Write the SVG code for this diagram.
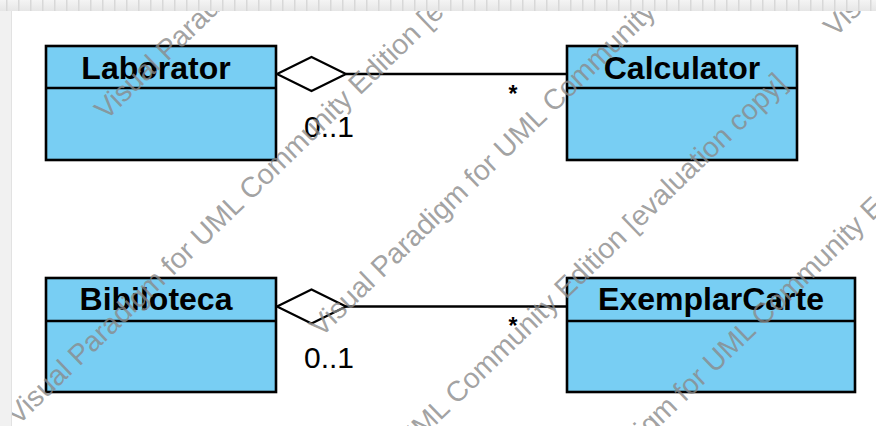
<svg xmlns="http://www.w3.org/2000/svg" width="876" height="426" viewBox="0 0 876 426">
  <defs>
    <style>
      .cls { fill: #78cef3; stroke: #000; stroke-width: 2.6; }
      .div { stroke: #000; stroke-width: 2.6; }
      .name { font-family: "Liberation Sans", Arial, sans-serif; font-size: 32px; font-weight: bold; fill: #000; text-anchor: middle; }
      .mult { font-family: "Liberation Sans", Arial, sans-serif; font-size: 30px; fill: #000; }
      .star { font-family: "Liberation Sans", Arial, sans-serif; font-size: 23px; font-weight: bold; fill: #000; text-anchor: middle; }
      .assoc { stroke: #000; stroke-width: 2.6; fill: none; }
      .agg { stroke: #000; stroke-width: 2.2; fill: #fff; stroke-linejoin: miter; }
      .wm { font-family: "Liberation Sans", Arial, sans-serif; font-size: 28.5px; fill: #8a8a8a; fill-opacity: 0.8; }
    </style>
    <linearGradient id="rulerFill" x1="0" y1="0" x2="0" y2="1">
      <stop offset="0" stop-color="#f4f4f4"/>
      <stop offset="1" stop-color="#e6e6e6"/>
    </linearGradient>
    <pattern id="ticks" x="0" y="0" width="12" height="11" patternUnits="userSpaceOnUse">
      <rect x="0" y="0" width="12" height="11" fill="url(#rulerFill)"/>
      <rect x="6" y="0" width="1.5" height="11" fill="#d8d8d8"/>
    </pattern>
  </defs>

  <!-- canvas -->
  <rect x="0" y="0" width="876" height="426" fill="#fff"/>

  <!-- associations -->
  <g id="connectors">
    <g id="assoc-laborator-calculator">
      <line class="assoc" x1="346" y1="74" x2="566" y2="74"/>
      <polygon class="agg" points="277,74 311.5,57 346,74 311.5,91"/>
      <text class="mult" x="304" y="137">0..1</text>
      <text class="star" x="513" y="102">*</text>
    </g>
    <g id="assoc-bibiloteca-exemplarcarte">
      <line class="assoc" x1="346" y1="306.5" x2="566" y2="306.5"/>
      <polygon class="agg" points="277,306.5 311.5,289.5 346,306.5 311.5,323.5"/>
      <text class="mult" x="304" y="368">0..1</text>
      <text class="star" x="513" y="334">*</text>
    </g>
  </g>

  <!-- classes -->
  <g id="Laborator">
    <rect class="cls" x="46" y="46" width="230" height="114"/>
    <line class="div" x1="46" y1="88" x2="276" y2="88"/>
    <text class="name" x="156" y="79">Laborator</text>
  </g>
  <g id="Calculator">
    <rect class="cls" x="567" y="46" width="230" height="114"/>
    <line class="div" x1="567" y1="88" x2="797" y2="88"/>
    <text class="name" x="682" y="79">Calculator</text>
  </g>
  <g id="Bibiloteca">
    <rect class="cls" x="46" y="278" width="230" height="114"/>
    <line class="div" x1="46" y1="321" x2="276" y2="321"/>
    <text class="name" x="156" y="310">Bibiloteca</text>
  </g>
  <g id="ExemplarCarte">
    <rect class="cls" x="567" y="278" width="288" height="114"/>
    <line class="div" x1="567" y1="321" x2="855" y2="321"/>
    <text class="name" x="711" y="310">ExemplarCarte</text>
  </g>

  <!-- edition watermark, diagonal -->
  <g id="watermark">
    <text class="wm" transform="translate(106,121) rotate(-44)">Visual Paradigm for UML Community Edition [evaluation copy]</text>
    <text class="wm" transform="translate(18,426) rotate(-44)">Visual Paradigm for UML Community Edition [evaluation copy]</text>
    <text class="wm" transform="translate(321,338) rotate(-44)">Visual Paradigm for UML Community Edition [evaluation copy]</text>
    <text class="wm" transform="translate(224,630) rotate(-44)">Visual Paradigm for UML Community Edition [evaluation copy]</text>
    <text class="wm" transform="translate(530,552) rotate(-44)">Visual Paradigm for UML Community Edition [evaluation copy]</text>
    <text class="wm" transform="translate(835,38) rotate(-44)">Visual Paradigm for UML Community Edition [evaluation copy]</text>
  </g>

  <!-- editor rulers drawn over the canvas edges -->
  <g id="rulers">
    <rect x="0" y="0" width="11" height="426" fill="#f1f1f1"/>
    <line x1="11.5" y1="0" x2="11.5" y2="426" stroke="#e2e2e2" stroke-width="1"/>
    <rect x="0" y="0" width="876" height="11" fill="url(#ticks)"/>
  </g>
</svg>
